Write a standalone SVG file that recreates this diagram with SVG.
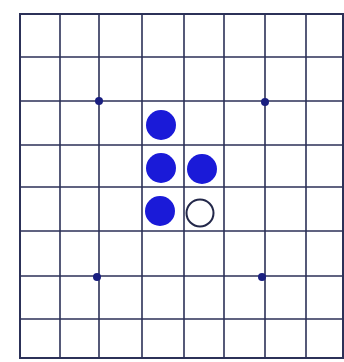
<svg xmlns="http://www.w3.org/2000/svg" width="344" height="362" viewBox="0 0 344 362">
<style>
.g{stroke:#2c3158;stroke-width:1.6;fill:none}
.b{stroke:#2c3158;stroke-width:2}
.s{fill:#1a1ad8}
.o{fill:#ffffff;stroke:#23284a;stroke-width:2}
.d{fill:#1a1f80}
</style>
<rect width="344" height="362" fill="#ffffff"/>
<g id="grid">
<rect class="b" x="20" y="14" width="323" height="344" fill="none"/>
<path class="g" d="M60 14V358M99 14V358M142 14V358M184 14V358M224 14V358M265 14V358M306 14V358M20 57H343M20 101H343M20 145H343M20 187H343M20 231H343M20 276H343M20 319H343"/>
</g>
<g id="stars">
<circle class="d" cx="99" cy="101" r="4"/>
<circle class="d" cx="265" cy="102" r="4"/>
<circle class="d" cx="97" cy="277" r="4"/>
<circle class="d" cx="262" cy="277" r="4"/>
</g>
<g id="stones">
<circle class="s" cx="161" cy="125" r="15"/>
<circle class="s" cx="161" cy="168" r="15"/>
<circle class="s" cx="202" cy="169" r="15"/>
<circle class="s" cx="160" cy="211" r="15"/>
<circle class="o" cx="200" cy="213" r="13.5"/>
</g>
</svg>
